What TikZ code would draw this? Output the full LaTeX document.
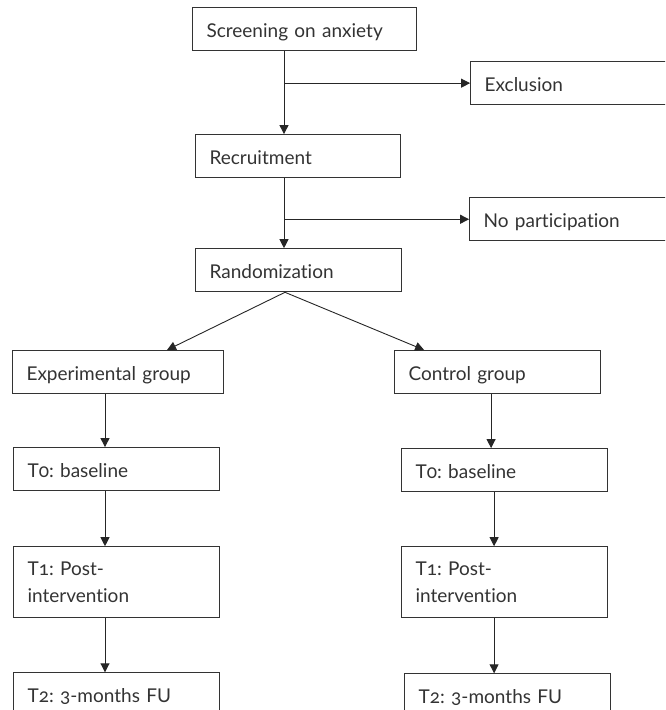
\documentclass[tikz,border=0pt]{standalone}
\usepackage{fontspec}
\setmainfont{Lato}[Numbers=OldStyle, Ligatures=NoCommon]
\usepackage{xcolor}
\usetikzlibrary{arrows.meta, positioning, calc}

\begin{document}
\begin{tikzpicture}[x=1pt, y=1pt, >={Triangle[length=9pt,width=9pt]},
    base/.style={rectangle, draw=black!80, line width=1.1pt, inner xsep=14pt, inner ysep=0pt, text width=178pt, align=left, text=black!80, font=\fontsize{19pt}{26.7pt}\selectfont\frenchspacing},
    box/.style={base, minimum height=43pt, text height=17pt, text depth=0pt},
    tall/.style={base, minimum height=71pt}
]
\useasboundingbox (0,0) rectangle (665,-710);
\clip (0,0) rectangle (665,-710);

% Top: screening and recruitment
\node (scr) [box, text width=196pt, anchor=north west] at (192,-7) {Screening on anxiety};
\node (excl) [box, text width=192pt, below right=10pt and 53pt of scr.south east] {Exclusion};
\node (rec) [box, text width=177pt, below right=83pt and 3pt of scr.south west] {Recruitment};
\node (nopart) [box, text width=192pt, below right=19pt and 68pt of rec.south east] {No participation};
\node (rand) [box, below right=70pt and 0pt of rec.south west] {Randomization};

% Two arms
\node (exp) [box, text width=183pt, anchor=north west] at (12,-350) {Experimental group};
\node (ctrl) [box, right=170pt of exp] {Control group};

% Experimental arm
\node (t0e) [box, below right=53pt and 1pt of exp.south west] {T0: baseline};
\node (t1e) [tall, below right=55pt and 0pt of t0e.south west] {T1: Post-\\intervention};
\node (t2e) [box, below right=54pt and 0pt of t1e.south west] {T2: 3-months FU};

% Control arm
\node (t0c) [box, below right=54pt and 7pt of ctrl.south west] {T0: baseline};
\node (t1c) [tall, below right=54pt and 0pt of t0c.south west] {T1: Post-\\intervention};
\node (t2c) [box, below right=55pt and 3pt of t1c.south west] {T2: 3-months FU};

% Connections
\coordinate (scrout) at ($(scr.south west)+(92,0)$);
\coordinate (recout) at ($(rec.south west)+(89,0)$);
\coordinate (randout) at ($(rand.south west)+(90,0)$);
\coordinate (expout) at ($(exp.south west)+(93,0)$);
\coordinate (ctrlout) at ($(ctrl.south west)+(97,0)$);
\coordinate (t0cout) at ($(t0c.south west)+(93,0)$);

\draw [->, line width=0.9pt, black!85] (scrout) -- (scrout |- rec.north);
\draw [->, line width=0.9pt, black!85] (scrout |- excl.west) -- (excl.west);
\draw [->, line width=0.9pt, black!85] (recout) -- (recout |- rand.north);
\draw [->, line width=0.9pt, black!85] (recout |- nopart.west) -- (nopart.west);
\draw [->, line width=0.9pt, black!85] (randout) -- ($(exp.north west)+(155,0)$);
\draw [->, line width=0.9pt, black!85] (randout) -- ($(ctrl.north west)+(30,0)$);
\draw [->, line width=0.9pt, black!85] (expout) -- (expout |- t0e.north);
\draw [->, line width=0.9pt, black!85] (expout |- t0e.south) -- (expout |- t1e.north);
\draw [->, line width=0.9pt, black!85] (expout |- t1e.south) -- (expout |- t2e.north);
\draw [->, line width=0.9pt, black!85] (ctrlout) -- (ctrlout |- t0c.north);
\draw [->, line width=0.9pt, black!85] (t0cout) -- (t0cout |- t1c.north);
\draw [->, line width=0.9pt, black!85] (t0cout |- t1c.south) -- (t0cout |- t2c.north);

\end{tikzpicture}
\end{document}
